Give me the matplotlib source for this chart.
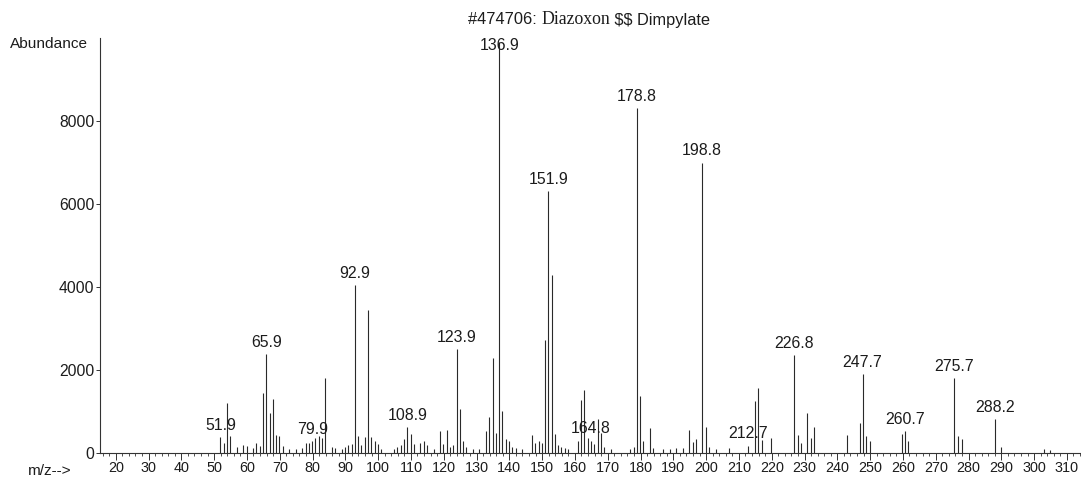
import numpy as np
import matplotlib
matplotlib.use("Agg")
import matplotlib.pyplot as plt
from matplotlib.ticker import MultipleLocator, FixedLocator

plt.rcParams['font.family'] = ['Liberation Sans', 'DejaVu Sans']

'''Spectrum values'''
'''=============='''
# labelled ions
label_mz = [51.9, 65.9, 79.9, 92.9, 108.9, 123.9, 136.9, 151.9, 164.8,
            178.8, 198.8, 212.7, 226.8, 247.7, 260.7, 275.7, 288.2]
label_abund = [390, 2390, 290, 4050, 620, 2500, 9900, 6320, 300,
               8310, 7000, 180, 2360, 1900, 520, 1800, 810]

# remaining ions
other_mz = [52.9, 53.9, 54.9, 56.9, 58.9, 59.9, 61.9, 62.9, 63.9,
            64.9, 66.9, 67.9, 68.9, 69.9, 70.9, 72.9, 74.9, 76.9,
            77.9, 78.9, 80.9, 81.9, 82.9, 83.9, 85.9, 86.9, 88.9, 89.9, 90.9, 91.9,
            93.9, 94.9, 95.9, 96.9, 97.9, 98.9, 99.9, 100.9,
            104.9, 105.9, 106.9, 107.9, 109.9, 110.9, 112.9, 113.9, 114.9, 116.9,
            118.9, 119.9, 120.9, 121.9, 122.9, 124.9, 125.9, 126.9,
            128.9, 130.9, 132.9, 133.9, 134.9, 135.9, 137.9, 138.9, 139.9, 140.9, 141.9, 143.9,
            146.9, 147.9, 148.9, 149.9, 150.9, 152.9, 153.9, 154.9, 155.9, 156.9, 157.9,
            160.9, 161.9, 162.9, 163.9, 165.9, 166.9, 167.9, 168.9, 170.9,
            176.9, 177.9, 179.9, 180.9, 182.9, 183.9, 186.9, 188.9, 190.9, 192.9,
            194.9, 195.9, 196.9, 199.9, 200.9, 202.9, 206.9,
            214.9, 215.9, 216.9, 219.9,
            227.9, 228.9, 230.9, 231.9, 232.9, 242.9, 246.9, 248.9, 249.9,
            259.8, 261.6, 276.9, 277.9, 289.9, 302.9, 304.9]
other_abund = [230, 1210, 410, 150, 200, 180, 120, 250, 180,
               1450, 960, 1290, 430, 410, 170, 100, 100, 120,
               250, 250, 370, 410, 370, 1815, 150, 120, 100, 150, 200, 220,
               410, 200, 380, 3450, 390, 300, 210, 100,
               100, 150, 200, 330, 460, 210, 250, 280, 200, 100,
               520, 210, 550, 150, 200, 1070, 300, 150,
               100, 100, 530, 860, 2300, 490, 1010, 330, 300, 150, 120, 100,
               440, 230, 300, 230, 2720, 4300, 450, 200, 150, 120, 100,
               290, 1280, 1520, 370, 220, 830, 470, 150, 100,
               100, 150, 1370, 300, 610, 120, 100, 100, 120, 120,
               550, 270, 340, 630, 150, 100, 120,
               1250, 1560, 310, 360,
               440, 250, 955, 360, 620, 440, 730, 420, 300,
               460, 300, 410, 330, 150, 100, 80]

mz = np.array(label_mz + other_mz)
abund = np.array(label_abund + other_abund)

ink = '#1c1c1c'
sans = ['Liberation Sans', 'DejaVu Sans']

fig = plt.figure(figsize=(10.81, 4.83), dpi=100)
ax = fig.add_axes([100/1081, 30/483, 981/1081, 415/483])

ax.vlines(mz, 0, abund, colors='#2a2a2a', linewidth=0.8)

for x, h in zip(label_mz, label_abund):
    ax.annotate("%.1f" % x, (x, min(h, 9550)), xytext=(0, 3), textcoords='offset points',
                ha='center', va='bottom', fontsize=11.4, color=ink)

ax.set_xlim(15.2, 314.3)
ax.set_ylim(0, 10000)

ax.spines['top'].set_visible(False)
ax.spines['right'].set_visible(False)
for s in ('left', 'bottom'):
    ax.spines[s].set_color('#333333')
    ax.spines[s].set_linewidth(0.8)

ax.xaxis.set_major_locator(FixedLocator(np.arange(20, 311, 10)))
ax.xaxis.set_minor_locator(MultipleLocator(2))
ax.yaxis.set_major_locator(FixedLocator([0, 2000, 4000, 6000, 8000]))

ax.tick_params(axis='x', which='major', length=5, width=0.7, pad=0.5,
               labelsize=10.4, colors='#333333', labelcolor=ink)
ax.tick_params(axis='x', which='minor', length=2.5, width=0.6, colors='#333333')
ax.tick_params(axis='y', which='major', length=3, width=0.7, pad=1,
               labelsize=11.3, colors='#333333', labelcolor=ink)

fig.text(10/1081, 1 - 44/483, "Abundance", fontsize=11.1, color=ink, ha='left', va='center')
fig.text(28/1081, 1 - 471/483, "m/z-->", fontsize=11.1, color=ink, ha='left', va='center')

# title in mixed fonts
t1 = fig.text(468/1081, 1 - 20/483, "#474706: ", fontsize=11.8, color=ink,
              ha='left', va='center', family=sans)
t2 = ax.annotate("Diazoxon", xy=(1, 0), xycoords=t1, ha='left', va='bottom',
                 fontsize=12.8, color=ink, family=['Liberation Serif', 'DejaVu Serif'])
t3 = ax.annotate(r" \$\$ Dimpylate", xy=(1, 0), xycoords=t2, ha='left', va='bottom',
                 fontsize=11.8, color=ink, family=sans)

fig.savefig("out.png", dpi=100)
